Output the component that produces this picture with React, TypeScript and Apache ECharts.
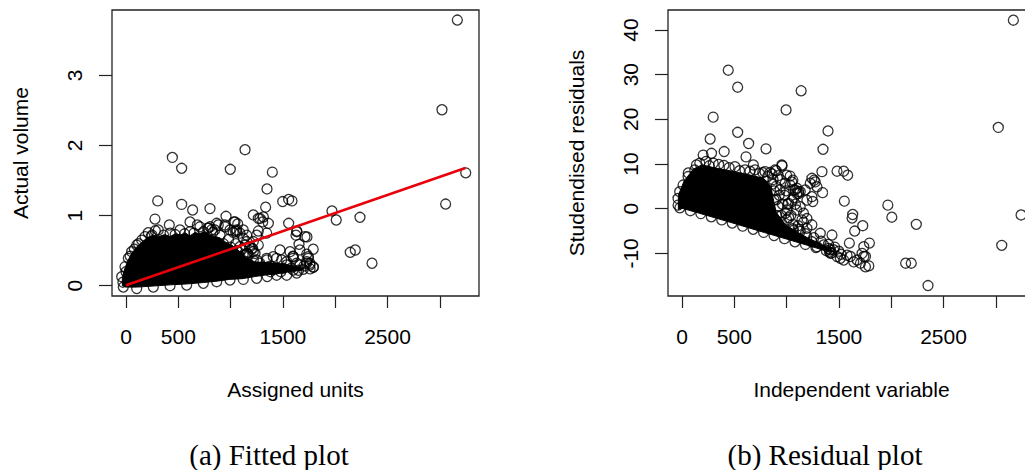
import React, { useEffect, useRef } from "react";
import * as echarts from "echarts";

const xTickValues = [0, 500, 1000, 1500, 2000, 2500, 3000];
const xLabelValues = [0, 500, 1500, 2500];
const yTickValuesA = [0, 1, 2, 3];
const yTickValuesB = [-10, 0, 10, 20, 30, 40];

// dense solid core of the fitted plot (x, actual volume)
const fittedCore: number[][] = [
  [-35, 0.0], [-35, 0.12], [-8, 0.26], [22, 0.37], [55, 0.46], [100, 0.55], [150, 0.62], [210, 0.69],
  [260, 0.72], [310, 0.7], [370, 0.73], [420, 0.7], [470, 0.74], [520, 0.72], [570, 0.75], [610, 0.71],
  [660, 0.76], [700, 0.74], [750, 0.77], [790, 0.73], [860, 0.7], [900, 0.68], [940, 0.63],
  [1020, 0.57], [1090, 0.48], [1150, 0.4], [1230, 0.34], [1330, 0.33], [1440, 0.32], [1540, 0.3],
  [1640, 0.27], [1700, 0.25], [1680, 0.22], [1560, 0.2], [1440, 0.17], [1320, 0.15], [1230, 0.13],
  [1110, 0.1], [990, 0.09], [870, 0.065], [740, 0.045], [580, 0.025], [420, 0.012], [260, -0.005],
  [100, -0.02], [0, -0.02],
];

const fittedPoints: number[][] = [
  [3168, 3.79], [3021, 2.51], [3248, 1.61], [3056, 1.165], [1138, 1.94], [443, 1.83], [532, 1.675],
  [997, 1.66], [1399, 1.62], [1348, 1.38], [303, 1.21], [532, 1.16], [637, 1.08], [803, 1.1],
  [1335, 1.12], [1498, 1.2], [1555, 1.23], [1587, 1.21], [1969, 1.066], [2010, 0.937], [2237, 0.976],
  [2352, 0.32], [2144, 0.476], [2192, 0.509],
  [1555, 0.89], [1634, 0.78], [1625, 0.72], [1730, 0.695], [1654, 0.59], [1790, 0.52], [1596, 0.42],
  [277, 0.95], [414, 0.866], [612, 0.91], [682, 0.866], [956, 0.99], [1032, 0.91], [1068, 0.88],
  [1217, 1.01], [1265, 0.96], [1313, 0.98], [1361, 0.89], [1281, 0.96], [1307, 0.91],
  [280, 0.785], [250, 0.72], [780, 0.82], [820, 0.8], [1025, 0.76], [1045, 0.78], [1249, 0.72],
  [1265, 0.78], [1345, 0.75], [1154, 0.63], [1211, 0.53], [1160, 0.46],
  [803, 0.84], [882, 0.866], [850, 0.795], [946, 0.84], [994, 0.795], [1058, 0.77], [1121, 0.795],
  [1154, 0.72], [1217, 0.63], [1265, 0.58], [1202, 0.53], [1154, 0.46], [1090, 0.41], [1233, 0.46],
  [962, 0.51], [1026, 0.46], [1090, 0.556],
  [213, 0.756], [309, 0.795], [421, 0.75], [516, 0.795], [612, 0.77], [707, 0.84], [787, 0.82],
  [867, 0.89], [946, 0.866], [1042, 0.91], [1058, 0.795], [1090, 0.75], [1121, 0.676], [1138, 0.58],
  [1185, 0.556], [1217, 0.485], [1169, 0.438],
  [240, 0.7], [360, 0.72], [470, 0.73], [560, 0.74], [650, 0.75], [740, 0.77], [830, 0.76], [900, 0.72],
  [980, 0.66], [1050, 0.6], [1110, 0.52], [1000, 0.55], [1060, 0.5], [1120, 0.44], [930, 0.6],
  [1249, 0.367], [1345, 0.39], [1440, 0.39], [1536, 0.342], [1632, 0.32], [1727, 0.342], [1504, 0.248],
  [1408, 0.234], [1313, 0.262], [1599, 0.224], [1695, 0.234], [1759, 0.295], [1345, 0.367], [1408, 0.414],
  [1488, 0.367], [1536, 0.295], [1599, 0.39], [1663, 0.295], [1727, 0.32], [1791, 0.27], [1440, 0.248],
  [1360, 0.27], [1281, 0.32], [1217, 0.367], [1154, 0.342], [1472, 0.51], [1568, 0.485], [1663, 0.51],
  [1743, 0.414], [1711, 0.7], [1632, 0.77], [1599, 0.414], [1727, 0.45], [1743, 0.39], [1759, 0.32],
  [1791, 0.26], [1440, 0.15], [1536, 0.15], [1632, 0.18], [1424, 0.25],
  [1180, 0.2], [1270, 0.22], [1380, 0.2], [1480, 0.2], [1580, 0.25], [1650, 0.22], [1700, 0.28], [1760, 0.24],
  [-41, 0.128], [-10, 0.27], [22, 0.39], [54, 0.485], [102, 0.58], [150, 0.65], [182, 0.7],
  [-30, 0.05], [0, 0.2], [40, 0.42], [80, 0.52], [120, 0.6],
  [-26, -0.02], [102, -0.04], [261, -0.02], [421, 0.0], [580, 0.01], [739, 0.034], [867, 0.057],
  [994, 0.08], [1121, 0.09], [1249, 0.105], [1350, 0.13],
];

const fittedLine: number[][] = [[0, 0.005], [3245, 1.68]];

// dense solid core of the residual plot (x, studentised residual)
const residualCore: number[][] = [
  [-35, -0.2], [-35, 3], [20, 6.2], [110, 8.9], [190, 9.8], [320, 9.1], [480, 8.4], [640, 7.6],
  [780, 6.8], [850, 5.0], [870, 2.5], [900, -0.8], [990, -3.6], [1100, -5.2], [1200, -6.5], [1300, -7.6],
  [1400, -8.8], [1450, -9.6], [1400, -9.6], [1200, -8.2], [1000, -6.8], [790, -5.35], [470, -3.1],
  [150, -0.9], [0, 0.1],
];

const residualPoints: number[][] = [
  [3168, 42.2], [3024, 18.2], [3242, -1.4], [3057, -8.2], [442, 31.0], [532, 27.2], [1139, 26.4],
  [995, 22.1], [298, 20.5], [532, 17.1], [1396, 17.4], [269, 15.6], [637, 14.6], [803, 13.4],
  [1348, 13.3], [403, 12.8], [202, 12.0], [282, 12.4], [612, 11.6], [682, 9.8], [957, 9.6], [900, 8.5],
  [842, 8.1], [772, 8.1], [1338, 8.3], [1482, 8.4], [1546, 8.4], [1584, 7.5], [1034, 7.3], [1060, 6.4],
  [1242, 6.8], [1264, 6.4], [1274, 6.0], [1290, 4.9], [1344, 3.6], [1552, 1.7], [1632, -1.3],
  [1626, -2.1], [1651, -5.0], [1728, -3.8], [1792, -7.7], [1600, -7.7], [1968, 0.8], [2006, -1.9],
  [2240, -3.5], [2138, -12.2], [2192, -12.2], [2352, -17.2],
  [1082, 4.2], [1098, 3.4], [1114, 3.8], [995, 4.0], [1010, 1.0], [1085, 1.0], [1250, 1.6], [1162, -1.0],
  [1194, -2.2], [1146, -2.5], [1162, -3.0], [1130, 0.45], [1194, 1.9], [1242, 2.7],
  [1226, 5.7], [1178, 4.2], [1114, 3.4], [1050, 1.9], [1098, -0.3], [1002, -0.3], [1018, 1.2],
  [1066, 4.2], [1034, 5.3], [986, 5.7], [938, 4.2], [1242, -3.6], [1194, -4.4],
  [870, 6.5], [900, 5.0], [930, 3.0], [960, 1.0], [990, -1.0], [1020, -2.0], [940, 6.5], [980, 3.0],
  [1040, -1.5], [1070, 2.5], [1110, -3.8], [1000, 7.5], [920, 7.4], [860, 7.8], [880, 2.0], [905, -1.5],
  [950, -3.0], [1060, -4.5],
  [1738, -8.5], [1722, -10.0], [1754, -10.7], [1786, -12.8], [1706, -12.2], [1674, -11.5], [1610, -10.7],
  [1546, -11.5], [1482, -10.7], [1450, -9.2], [1402, -8.9], [1354, -8.1], [1290, -8.5], [1242, -7.4],
  [1194, -6.3], [1130, -5.1], [1066, -4.8], [1434, -5.9], [1322, -5.5], [1418, -9.2], [1514, -11.1],
  [1578, -10.4], [1642, -11.9], [1738, -10.7], [1754, -13.0], [1420, -10.0], [1410, -9.7], [1430, -9.9],
  [138, 9.8], [298, 10.2], [506, 9.4], [602, 8.7], [698, 8.7], [794, 8.3], [890, 8.7], [954, 9.8],
  [1050, 6.0], [1098, 4.6], [1130, 3.8], [400, 9.7], [230, 10.6],
  [60, 8.0], [170, 10.2], [260, 9.6], [350, 9.9], [450, 9.2], [550, 8.5], [650, 8.4], [740, 7.9],
  [820, 7.2], [860, 5.5], [880, 4.0], [900, 2.0], [920, 0.5], [950, -1.5], [1000, -2.5], [1060, -3.5],
  [1120, -4.6], [1180, -5.6], [1260, -6.5], [1330, -7.3], [1400, -8.0], [1460, -8.6], [1500, -9.5],
  [1520, -10.2],
  [-38, 2.3], [-22, 3.8], [10, 5.3], [58, 7.2], [122, 8.7], [-38, 0.8],
  [-20, 0.2], [80, -0.45], [180, -1.1], [280, -1.8], [380, -2.5], [480, -3.2], [580, -3.9], [680, -4.6],
  [780, -5.3], [880, -6.0], [980, -6.7], [1080, -7.4], [1180, -8.0], [1280, -8.7], [1380, -9.4],
];

const SANS = "'Liberation Sans', Arial, Helvetica, sans-serif";
const SERIF = "'Liberation Serif', 'Times New Roman', serif";
const FRAME = "#222";
const plain = (v: number) => String(v);

function xAxisFor(gridIndex: number, name: string) {
  return {
    type: "value",
    gridIndex,
    min: -134,
    max: 3375,
    name,
    nameLocation: "middle",
    nameGap: 83,
    nameTextStyle: { fontFamily: SANS, fontSize: 21, color: "#000" },
    axisLine: { show: false, onZero: false },
    axisTick: { show: true, length: 12, customValues: xTickValues, lineStyle: { color: FRAME, width: 1.2 } },
    axisLabel: { customValues: xLabelValues, formatter: plain, fontFamily: SANS, fontSize: 21, color: "#000", margin: 30 },
    splitLine: { show: false },
  };
}

function yAxisFor(gridIndex: number, name: string, min: number, max: number, ticks: number[]) {
  return {
    type: "value",
    gridIndex,
    min,
    max,
    name,
    nameLocation: "middle",
    nameGap: 81,
    nameTextStyle: { fontFamily: SANS, fontSize: 21, color: "#000" },
    axisLine: { show: false, onZero: false },
    axisTick: { show: true, length: 13, customValues: ticks, lineStyle: { color: FRAME, width: 1.2 } },
    axisLabel: { customValues: ticks, formatter: plain, rotate: 90, fontFamily: SANS, fontSize: 21, color: "#000", margin: 27 },
    splitLine: { show: false },
  };
}

function coreSeries(xi: number, pts: number[][]) {
  return {
    type: "custom",
    xAxisIndex: xi,
    yAxisIndex: xi,
    data: [[pts[0][0], pts[0][1]]],
    renderItem: (_params: any, api: any) => ({
      type: "polygon",
      shape: { points: pts.map((p) => api.coord(p)) },
      style: { fill: "#000", stroke: "#000", lineWidth: 1 },
    }),
    z: 1,
  };
}

function pointSeries(xi: number, pts: number[][]) {
  return {
    type: "scatter",
    xAxisIndex: xi,
    yAxisIndex: xi,
    data: pts,
    symbol: "circle",
    symbolSize: 10,
    itemStyle: { color: "rgba(0,0,0,0)", borderColor: "#000", borderWidth: 1.3 },
    z: 2,
  };
}

export default function App() {
  const ref = useRef<HTMLDivElement>(null);
  useEffect(() => {
    const chart = echarts.init(ref.current!, null, { renderer: "svg" });
    chart.setOption({
      animation: false,
      backgroundColor: "#fff",
      grid: [
        { left: 112, top: 10, width: 367, height: 286, show: true, borderColor: FRAME, borderWidth: 1.3, backgroundColor: "rgba(0,0,0,0)" },
        { left: 668, top: 10, width: 367, height: 286, show: true, borderColor: FRAME, borderWidth: 1.3, backgroundColor: "rgba(0,0,0,0)" },
      ],
      xAxis: [xAxisFor(0, "Assigned units"), xAxisFor(1, "Independent variable")],
      yAxis: [
        yAxisFor(0, "Actual volume", -0.147, 3.933, yTickValuesA),
        yAxisFor(1, "Studendised residuals", -19.54, 44.48, yTickValuesB),
      ],
      series: [
        coreSeries(0, fittedCore),
        pointSeries(0, fittedPoints),
        {
          type: "line",
          xAxisIndex: 0,
          yAxisIndex: 0,
          data: fittedLine,
          symbol: "none",
          lineStyle: { color: "#e8000b", width: 2.6 },
          z: 5,
        },
        coreSeries(1, residualCore),
        pointSeries(1, residualPoints),
      ],
      graphic: [
        {
          type: "text",
          x: 269,
          y: 455,
          style: { text: "(a) Fitted plot", fontFamily: SERIF, fontSize: 29, fill: "#000", align: "center", verticalAlign: "middle", textAlign: "center", textVerticalAlign: "middle" },
        },
        {
          type: "text",
          x: 825,
          y: 455,
          style: { text: "(b) Residual plot", fontFamily: SERIF, fontSize: 29, fill: "#000", align: "center", verticalAlign: "middle", textAlign: "center", textVerticalAlign: "middle" },
        },
      ],
    });
    return () => chart.dispose();
  }, []);
  return (
    <div style={{ position: "absolute", left: 0, top: 0, width: 1025, height: 470, overflow: "hidden", background: "#fff" }}>
      <div ref={ref} style={{ width: 1045, height: 470 }} />
    </div>
  );
}
